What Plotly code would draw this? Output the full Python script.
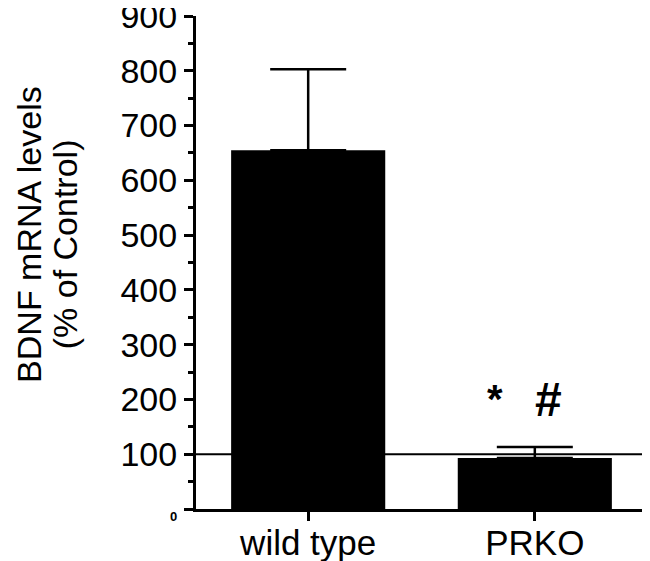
import plotly.graph_objects as go

# data
groups = ["wild type", "PRKO"]
bdnf_mean = [655, 93]
bdnf_sem = [148, 20]
control_level = 100
y_ticks = [0, 100, 200, 300, 400, 500, 600, 700, 800, 900]
y_tick_text = ["<b><span style='font-size:13px'>0</span></b>", "100", "200", "300",
               "400", "500", "600", "700", "800", "900"]
y_title = ["BDNF mRNA levels", "(% of Control)"]
sig_marks = ["*", "#"]
sig_levels = [200, 200]

FONT = "Liberation Sans, Arial, sans-serif"

fig = go.Figure()

fig.add_trace(go.Bar(
    x=groups, y=bdnf_mean,
    marker=dict(color="black", line=dict(color="black", width=0)),
    width=0.68,
    error_y=dict(type="data", array=bdnf_sem, arrayminus=[0, 0], symmetric=False,
                 color="black", thickness=2.5, width=38),
))

# control reference line
fig.add_shape(type="line", xref="paper", yref="y", x0=0, x1=1,
              y0=control_level, y1=control_level,
              line=dict(color="black", width=2))

# significance marks over PRKO
fig.add_annotation(x=1, y=sig_levels[0], xref="x", yref="y", text="<b>" + sig_marks[0] + "</b>",
                   showarrow=False, xshift=-40, font=dict(size=40, color="black", family=FONT))
fig.add_annotation(x=1, y=sig_levels[1], xref="x", yref="y", text="<b>" + sig_marks[1] + "</b>",
                   showarrow=False, xshift=14, font=dict(size=48, color="black", family=FONT))

# y axis title, one rotated line each so the spacing can be tight
fig.add_annotation(x=0, y=0.556, xref="paper", yref="paper", textangle=-90,
                   text=y_title[0], showarrow=False, xshift=-167, borderpad=0,
                   xanchor="center", yanchor="middle",
                   font=dict(size=34, family=FONT, color="black"))
fig.add_annotation(x=0, y=0.537, xref="paper", yref="paper", textangle=-90,
                   text=y_title[1], showarrow=False, xshift=-131, borderpad=0,
                   xanchor="center", yanchor="middle",
                   font=dict(size=34, family=FONT, color="black"))

# page body adds 8px offset, margins compensate for it
fig.update_layout(
    width=650, height=561,
    margin=dict(l=188, r=11, t=8, b=60),
    plot_bgcolor="white", paper_bgcolor="white",
    showlegend=False,
    font=dict(family=FONT, color="black"),
)

fig.update_xaxes(
    range=[-0.495, 1.495], automargin=False,
    showline=True, linecolor="black", linewidth=3,
    ticks="outside", ticklen=9, tickwidth=2.5, tickcolor="black",
    ticklabelstandoff=-8,
    tickfont=dict(size=35, family=FONT, color="black"),
    showgrid=False, zeroline=False,
)

fig.update_yaxes(
    range=[0, 900], automargin=False, ticklabeloverflow="allow",
    tickvals=y_ticks, ticktext=y_tick_text,
    showline=True, linecolor="black", linewidth=3,
    ticks="outside", ticklen=9, tickwidth=2.5, tickcolor="black",
    minor=dict(dtick=50, ticks="outside", ticklen=5, tickwidth=2.5, tickcolor="black", showgrid=False),
    tickfont=dict(size=34, family=FONT, color="black"),
    showgrid=False, zeroline=False,
)

fig.write_html("out.html")
